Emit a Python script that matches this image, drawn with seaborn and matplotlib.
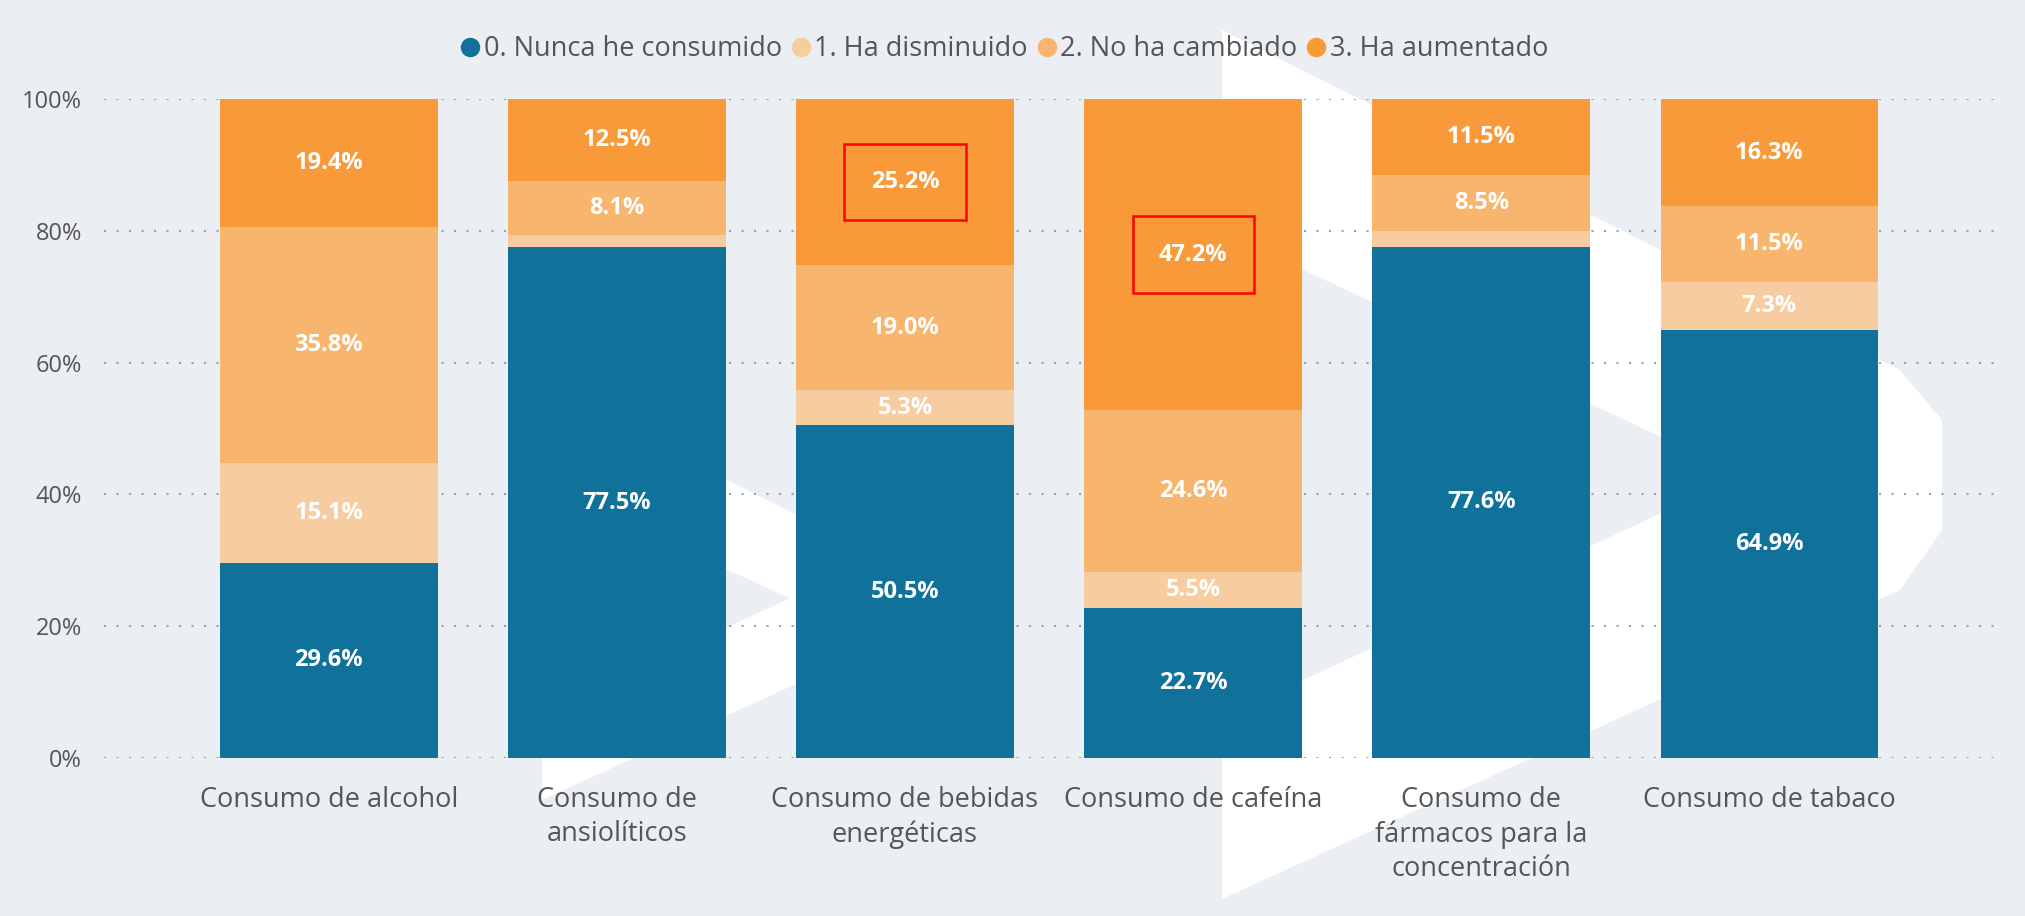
from matplotlib import pyplot as plt
from matplotlib.lines import Line2D
from matplotlib.patches import Polygon, Rectangle
import numpy as np
import pandas
import seaborn as sns

# Data
categories = ["Consumo de alcohol", "Consumo de ansiolíticos", "Consumo de bebidas energéticas",
              "Consumo de cafeína", "Consumo de fármacos para la concentración", "Consumo de tabaco"]
tick_labels = ["Consumo de alcohol", "Consumo de\nansiolíticos", "Consumo de bebidas\nenergéticas",
               "Consumo de cafeína", "Consumo de\nfármacos para la\nconcentración", "Consumo de tabaco"]
series = ["0. Nunca he consumido", "1. Ha disminuido", "2. No ha cambiado", "3. Ha aumentado"]
nunca = [29.6, 77.5, 50.5, 22.7, 77.6, 64.9]
disminuido = [15.1, 1.9, 5.3, 5.5, 2.4, 7.3]
no_cambiado = [35.8, 8.1, 19.0, 24.6, 8.5, 11.5]
aumentado = [19.4, 12.5, 25.2, 47.2, 11.5, 16.3]
# labels boxed in red in the original picture: (category index, series index)
highlighted = [(2, 3), (3, 3)]

colors = ["#10719B", "#F7CCA0", "#F8B56E", "#F89A39"]
bg = "#EBEEF3"
text_grey = "#555555"

df = pandas.DataFrame({"category": categories, series[0]: nunca, series[1]: disminuido,
                       series[2]: no_cambiado, series[3]: aumentado})
values = df[series].to_numpy()
shares = values / values.sum(axis=1, keepdims=True) * 100  # 100% stacked
cum = np.cumsum(shares, axis=1)

W, H = 2025, 916
sns.set_theme(style="white")
plt.rcParams['font.family'] = ['Open Sans', 'DejaVu Sans']

fig = plt.figure(figsize=(W / 100, H / 100), dpi=100, facecolor=bg)

# background logo (white chevrons)
def chevron(x0, y0, s):
    pts = [(0, 0), (678, 340), (720, 390), (720, 500), (678, 560), (0, 869), (0, 688), (521, 445), (0, 202)]
    return [((x0 + s * px) / W, 1 - (y0 + s * py) / H) for px, py in pts]

for x0, y0, s in [(1222, 30, 1.0), (542, 387, 0.475)]:
    fig.patches.append(Polygon(chevron(x0, y0, s), closed=True, transform=fig.transFigure,
                               facecolor="white", edgecolor="none", zorder=-5))

ax = fig.add_axes([104 / W, 1 - 758 / H, (1997 - 104) / W, (758 - 99) / H])
ax.set_facecolor("none")
ax.set_zorder(1)

# stacked bars: draw the cumulative totals from the top layer down
for k in range(len(series) - 1, -1, -1):
    sns.barplot(x=df["category"], y=cum[:, k], color=colors[k], width=0.755,
                saturation=1, linewidth=0, ax=ax, zorder=2)

# segment labels
for i in range(len(categories)):
    for k in range(len(series)):
        if values[i, k] < 4:
            continue
        mid = cum[i, k] - shares[i, k] / 2
        ax.text(i, mid, f"{values[i, k]:.1f}%", ha="center", va="center", color="white",
                fontsize=17, fontweight="bold", zorder=3)

for i, k in highlighted:
    mid = cum[i, k] - shares[i, k] / 2
    ax.add_patch(Rectangle((i - 0.21, mid - 5.8), 0.42, 11.6, fill=False,
                           edgecolor="red", linewidth=1.8, zorder=4))

ax.set_xlim(-0.78, 5.79)
ax.set_ylim(0, 100)
ax.set_yticks(range(0, 101, 20))
ax.set_yticklabels([f"{v}%" for v in range(0, 101, 20)])
ax.set_xticks(range(len(categories)))
ax.set_xticklabels(tick_labels, linespacing=1.3)
ax.tick_params(axis="y", length=0, labelsize=17, labelcolor=text_grey, pad=16)
ax.tick_params(axis="x", length=0, labelsize=19.5, labelcolor=text_grey, pad=20)
ax.set_xlabel("")
ax.set_ylabel("")
ax.grid(axis="y", linestyle=(0, (1, 5)), color="#7FADC0", linewidth=1.5, zorder=1)
ax.set_axisbelow(True)
for sp in ax.spines.values():
    sp.set_visible(False)

handles = [Line2D([], [], marker="o", linestyle="none", markersize=14, markerfacecolor=c,
                  markeredgecolor="none") for c in colors]
fig.legend(handles, series, loc="center", bbox_to_anchor=(0.496, 1 - 49 / H), ncol=4,
           frameon=False, fontsize=19.5, labelcolor=text_grey, handlelength=0.7,
           handletextpad=0.15, columnspacing=0.35, borderaxespad=0)

plt.savefig("out.png", dpi=100, facecolor=bg)
